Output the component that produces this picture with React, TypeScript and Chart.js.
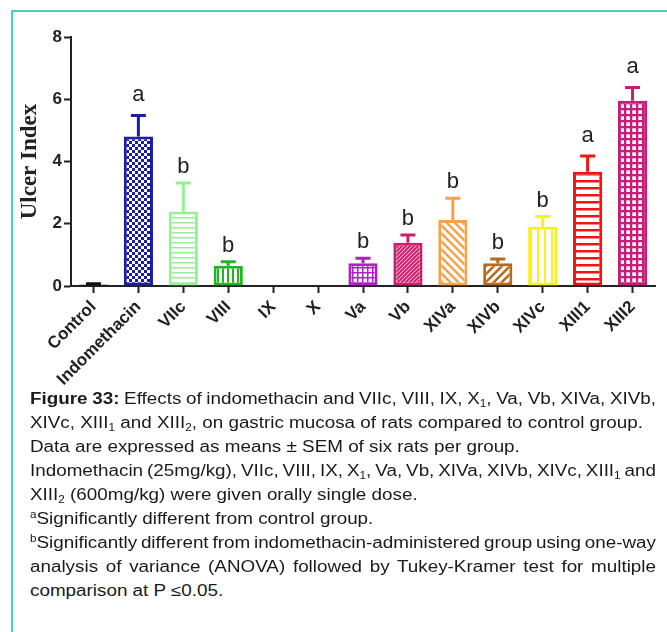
import React, { useEffect, useLayoutEffect, useRef } from "react";
import { Chart, registerables } from "chart.js";

Chart.register(...registerables);

// ---------- data ----------
const categories = ["Control", "Indomethacin", "VIIc", "VIII", "IX", "X", "Va", "Vb", "XIVa", "XIVb", "XIVc", "XIII1", "XIII2"];
const ulcerIndex = [0.05, 4.8, 2.39, 0.65, 0, 0, 0.73, 1.39, 2.12, 0.73, 1.9, 3.67, 5.95];
const sem = [0.02, 0.68, 0.92, 0.13, 0, 0, 0.16, 0.25, 0.7, 0.14, 0.33, 0.51, 0.43];
const sigLetters = ["", "a", "b", "b", "", "", "b", "b", "b", "b", "b", "a", "a"];
const barColors = ["#111111", "#1c1ca8", "#96f096", "#22b422", "#000000", "#000000", "#b01ec8", "#cc1f6e", "#f7a24a", "#b8691e", "#f6f21a", "#f01414", "#cc1a7a"];
const patternKinds = ["solid", "checker", "hlines", "vlines", "none", "none", "grid", "finediag", "backdiag", "fwddiag", "vlinesWide", "hlinesThick", "gridThick"];
const yTicks = [0, 2, 4, 6, 8];

const FONT = "'Liberation Sans', Arial, Helvetica, sans-serif";

function makePattern(kind: string, color: string): any {
  if (kind === "solid") return color;
  if (kind === "none") return "rgba(0,0,0,0)";
  const c = document.createElement("canvas");
  const g = c.getContext("2d")!;
  const set = (w: number, h: number) => {
    c.width = w;
    c.height = h;
    g.fillStyle = "#ffffff";
    g.fillRect(0, 0, w, h);
    g.fillStyle = color;
    g.strokeStyle = color;
  };
  const diag = (p: number, lw: number, forward: boolean) => {
    set(p, p);
    g.lineWidth = lw;
    g.beginPath();
    if (forward) {
      g.moveTo(0, p); g.lineTo(p, 0);
      g.moveTo(-p / 2, p / 2); g.lineTo(p / 2, -p / 2);
      g.moveTo(p / 2, p * 1.5); g.lineTo(p * 1.5, p / 2);
    } else {
      g.moveTo(0, 0); g.lineTo(p, p);
      g.moveTo(p / 2, -p / 2); g.lineTo(p * 1.5, p / 2);
      g.moveTo(-p / 2, p / 2); g.lineTo(p / 2, p * 1.5);
    }
    g.stroke();
  };
  switch (kind) {
    case "checker":
      set(6, 6);
      g.fillRect(0, 0, 3, 3);
      g.fillRect(3, 3, 3, 3);
      break;
    case "hlines":
      set(5, 5);
      g.fillRect(0, 0, 5, 1.5);
      break;
    case "vlines":
      set(5, 5);
      g.fillRect(0, 0, 2, 5);
      break;
    case "grid":
      set(5, 5);
      g.fillRect(0, 0, 5, 1.5);
      g.fillRect(0, 0, 1.5, 5);
      break;
    case "finediag":
      diag(4, 2.2, true);
      break;
    case "backdiag":
      diag(8, 2.5, false);
      break;
    case "fwddiag":
      diag(8, 2.5, true);
      break;
    case "vlinesWide":
      set(7, 7);
      g.fillRect(0, 0, 2, 7);
      break;
    case "hlinesThick":
      set(7, 7);
      g.fillRect(0, 0, 7, 2.5);
      break;
    case "gridThick":
      set(6, 6);
      g.fillRect(0, 0, 6, 2.3);
      g.fillRect(0, 0, 2.3, 6);
      break;
  }
  return g.createPattern(c, "repeat");
}

const errorBarPlugin = {
  id: "errorBars",
  afterDatasetsDraw(chart: any) {
    const ctx = chart.ctx;
    const meta = chart.getDatasetMeta(0);
    const ys = chart.scales.y;
    meta.data.forEach((bar: any, i: number) => {
      if (ulcerIndex[i] <= 0) return;
      const x = bar.x;
      const top = ys.getPixelForValue(ulcerIndex[i] + sem[i]);
      const base = bar.y;
      ctx.save();
      ctx.strokeStyle = barColors[i];
      ctx.lineWidth = 3;
      ctx.beginPath();
      ctx.moveTo(x, base);
      ctx.lineTo(x, top);
      ctx.moveTo(x - 7.5, top);
      ctx.lineTo(x + 7.5, top);
      ctx.stroke();
      if (sigLetters[i]) {
        ctx.fillStyle = "#222222";
        ctx.font = `22px ${FONT}`;
        ctx.textAlign = "center";
        ctx.textBaseline = "alphabetic";
        const gap = sigLetters[i] === "a" ? 14 : 10;
        ctx.fillText(sigLetters[i], x, top - gap);
      }
      ctx.restore();
    });
  },
};

const CAP_FONT_SIZE = 16;
const CAP_LEFT = 30;
const CAP_WIDTH = 626;
const CAP_TOP = 387;
const CAP_LINE = 24;
const CAP_REF_LINE2 = 613;

const subStyle: React.CSSProperties = { fontSize: "10px", verticalAlign: "-3px", lineHeight: 0 };
const supStyle: React.CSSProperties = { fontSize: "10px", verticalAlign: "6px", lineHeight: 0 };

export default function App() {
  const ref = useRef<HTMLCanvasElement>(null);
  const spanRefs = useRef<(HTMLSpanElement | null)[]>([]);

  const lines: { content: React.ReactNode; justify: boolean }[] = [
    { content: (<><b>Figure 33:</b> Effects of indomethacin and VIIc, VIII, IX, X<sub style={subStyle}>1</sub>, Va, Vb, XIVa, XIVb,</>), justify: true },
    { content: (<>XIVc, XIII<sub style={subStyle}>1</sub> and XIII<sub style={subStyle}>2</sub>, on gastric mucosa of rats compared to control group.</>), justify: false },
    { content: (<>Data are expressed as means ± SEM of six rats per group.</>), justify: false },
    { content: (<>Indomethacin (25mg/kg), VIIc, VIII, IX, X<sub style={subStyle}>1</sub>, Va, Vb, XIVa, XIVb, XIVc, XIII<sub style={subStyle}>1</sub> and</>), justify: true },
    { content: (<>XIII<sub style={subStyle}>2</sub> (600mg/kg) were given orally single dose.</>), justify: false },
    { content: (<><sup style={supStyle}>a</sup>Significantly different from control group.</>), justify: false },
    { content: (<><sup style={supStyle}>b</sup>Significantly different from indomethacin-administered group using one-way</>), justify: true },
    { content: (<>analysis of variance (ANOVA) followed by Tukey-Kramer test for multiple</>), justify: true },
    { content: (<>comparison at P ≤0.05.</>), justify: false },
  ];

  useLayoutEffect(() => {
    const spans = spanRefs.current;
    const w2 = spans[1] ? spans[1].getBoundingClientRect().width : CAP_REF_LINE2;
    const g = CAP_REF_LINE2 / w2;
    spans.forEach((sp, i) => {
      if (!sp) return;
      const w = sp.getBoundingClientRect().width;
      sp.style.transform = `scaleX(${g})`;
      if (lines[i].justify) {
        const nSpaces = (sp.textContent || "").split(" ").length - 1;
        const extra = (CAP_WIDTH / g - w) / Math.max(nSpaces, 1);
        sp.style.wordSpacing = `${extra}px`;
      }
    });
  }, []);

  useEffect(() => {
    const bg = categories.map((_, i) => makePattern(patternKinds[i], barColors[i]));
    const chart = new Chart(ref.current!, {
      type: "bar",
      data: {
        labels: categories,
        datasets: [
          {
            data: ulcerIndex,
            backgroundColor: bg,
            borderColor: barColors,
            borderWidth: 3,
            borderSkipped: false,
            barPercentage: 0.65,
            categoryPercentage: 1,
          } as any,
        ],
      },
      options: {
        responsive: false,
        maintainAspectRatio: false,
        animation: false,
        layout: { padding: { top: 25, right: 12, left: 0, bottom: 0 } },
        plugins: { legend: { display: false }, tooltip: { enabled: false } },
        scales: {
          x: {
            grid: { display: true, drawOnChartArea: false, offset: false, tickLength: 7, tickWidth: 2, tickColor: "#222" },
            border: { color: "#222", width: 2 },
            ticks: { font: { family: FONT, weight: "bold", size: 17 }, color: "#222", maxRotation: 45, minRotation: 45, padding: 4, autoSkip: false },
            afterFit: (s: any) => { s.height = 106; },
          },
          y: {
            min: 0,
            max: 8,
            afterBuildTicks: (s: any) => { s.ticks = yTicks.map((v) => ({ value: v })); },
            grid: { display: true, drawOnChartArea: false, tickLength: 7, tickWidth: 2, tickColor: "#222" },
            border: { color: "#222", width: 2 },
            ticks: { font: { family: FONT, weight: "bold", size: 17 }, color: "#222", padding: 2 },
            title: {
              display: true,
              text: "Ulcer Index",
              font: { family: "'Liberation Serif', 'Times New Roman', serif", weight: "bold", size: 23 },
              color: "#222",
              padding: { top: 4, bottom: 0 },
            },
            afterFit: (s: any) => { s.width = 59; },
          },
        },
      } as any,
      plugins: [errorBarPlugin],
    });
    return () => chart.destroy();
  }, []);

  return (
    <div style={{ position: "absolute", left: 0, top: 0, width: 667, height: 632, background: "#fff", overflow: "hidden" }}>
      <div style={{ position: "absolute", left: 11, top: 10, width: 700, height: 700, borderTop: "2px solid #45d0c0", borderLeft: "2px solid #45d0c0" }} />
      <canvas ref={ref} width={655} height={380} style={{ position: "absolute", left: 12, top: 12, width: 655, height: 380 }} />
      {lines.map((l, i) => (
        <div
          key={i}
          style={{
            position: "absolute",
            left: CAP_LEFT,
            top: CAP_TOP + i * CAP_LINE,
            height: CAP_LINE,
            lineHeight: `${CAP_LINE}px`,
            fontFamily: FONT,
            fontSize: CAP_FONT_SIZE,
            color: "#1a1a1a",
            whiteSpace: "nowrap",
          }}
        >
          <span
            ref={(el) => { spanRefs.current[i] = el; }}
            style={{ display: "inline-block", whiteSpace: "nowrap", transformOrigin: "0 0" }}
          >
            {l.content}
          </span>
        </div>
      ))}
    </div>
  );
}
